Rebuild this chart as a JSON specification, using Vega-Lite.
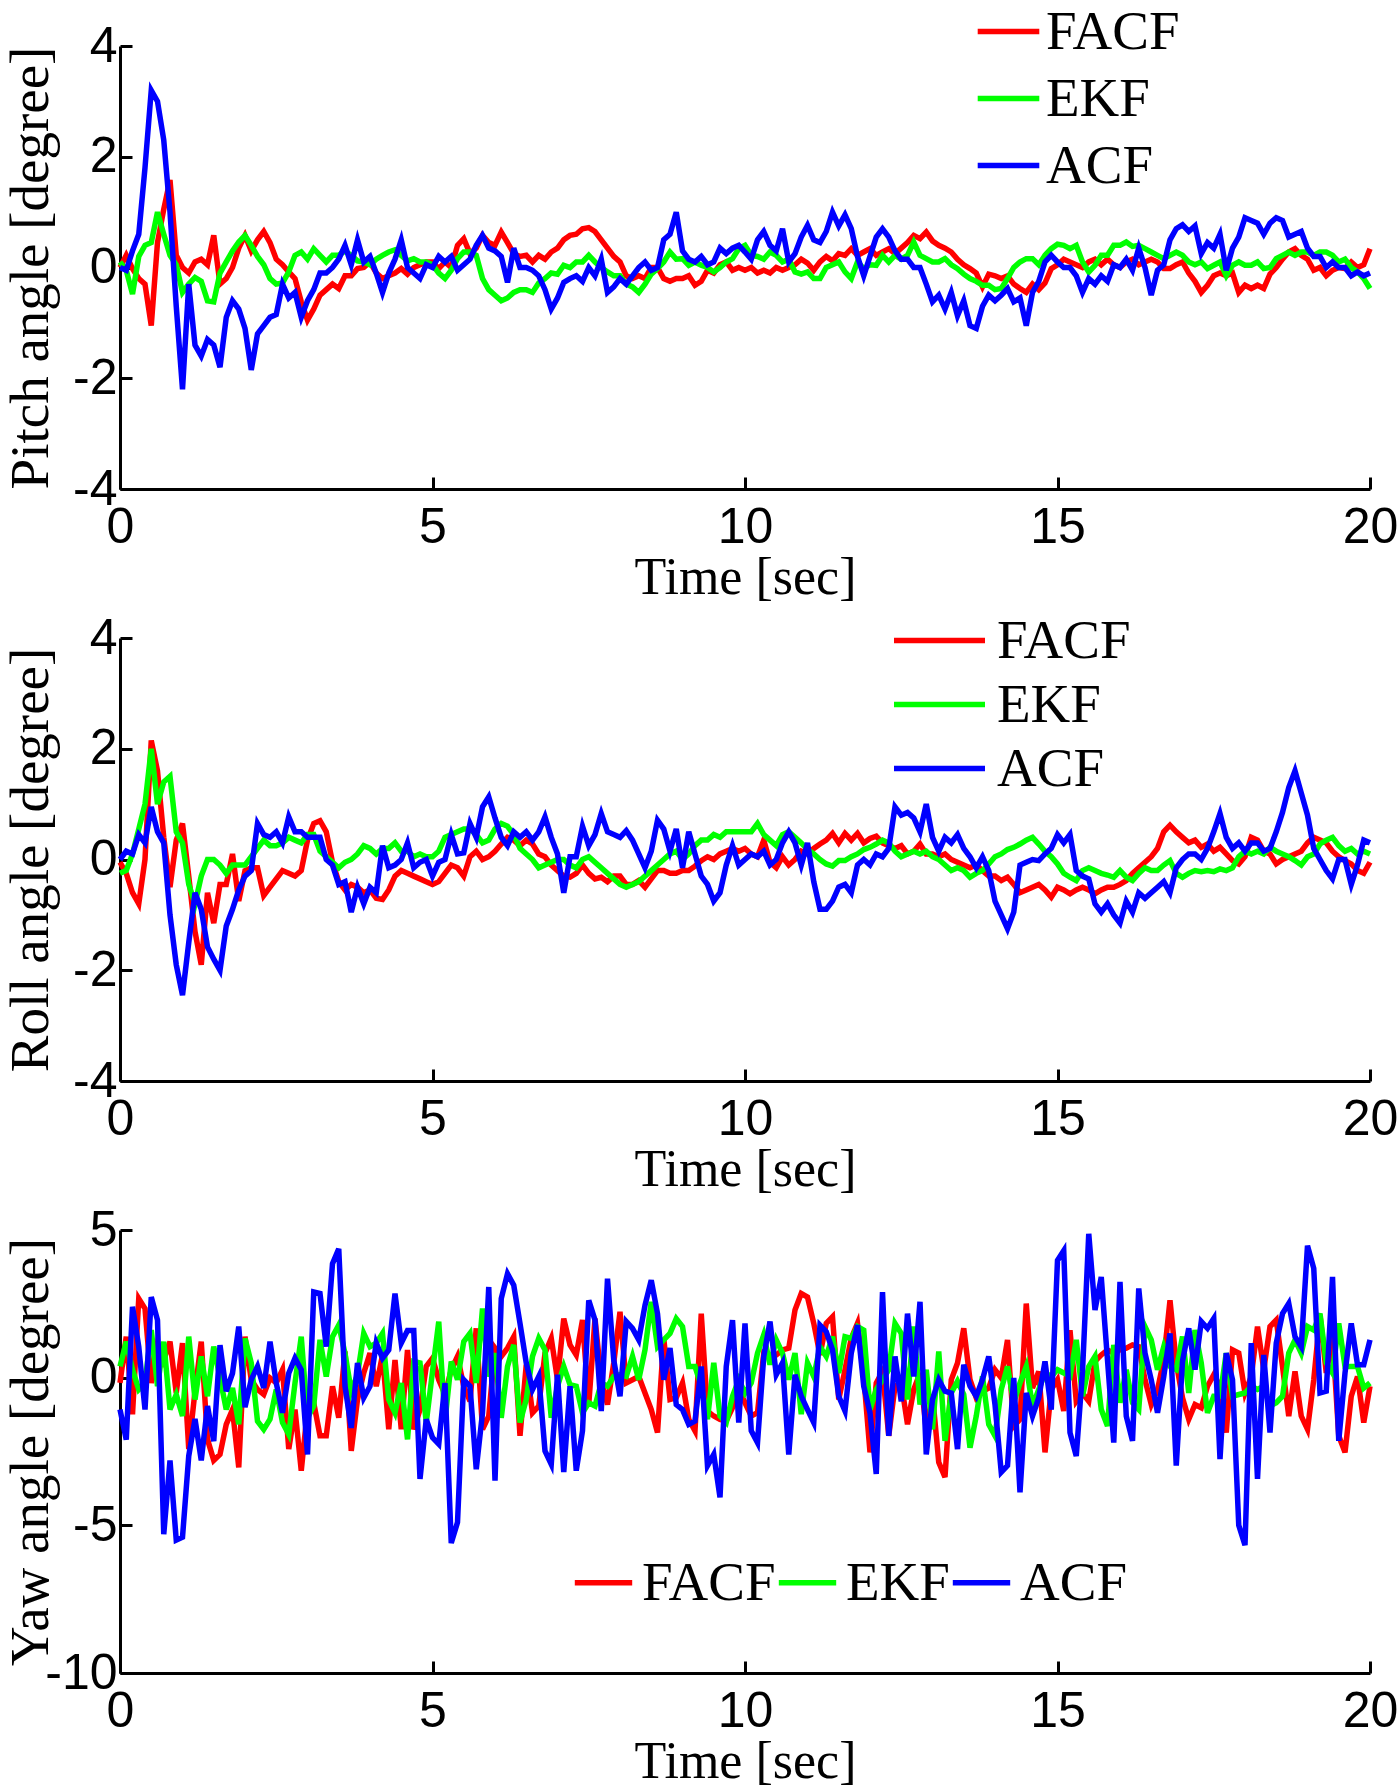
{
  "$schema": "https://vega.github.io/schema/vega-lite/v6.json",
  "description": "Pitch, roll and yaw angle estimates of FACF, EKF and ACF filters over 20 s",
  "background": "white",
  "padding": {"left": 2, "top": 4, "right": 0, "bottom": 0},
  "bounds": "flush",
  "spacing": 149,
  "config": {
    "view": {"stroke": null},
    "line": {"strokeWidth": 5.5},
    "axis": {
      "grid": false,
      "domainColor": "black",
      "domainWidth": 3,
      "tickColor": "black",
      "tickWidth": 3,
      "tickSize": -12,
      "labelFont": "Liberation Sans",
      "labelFontSize": 50,
      "labelColor": "black",
      "labelFlush": false,
      "labelOverlap": false,
      "labelBound": false,
      "labelExpr": "datum.value + ''",
      "titleFont": "Liberation Serif",
      "titleFontWeight": "normal",
      "titleColor": "black"
    },
    "axisX": {"labelPadding": 25, "titleFontSize": 52, "titlePadding": 0},
    "axisY": {"labelPadding": 15, "titleFontSize": 55, "titleBaseline": "top", "titleX": -116},
    "legend": {
      "title": null,
      "orient": "none",
      "symbolType": "M-1.4,0H1.4",
      "symbolStrokeWidth": 5.5,
      "labelFont": "Liberation Serif",
      "labelFontSize": 55,
      "labelColor": "black",
      "labelLimit": 0,
      "padding": 0
    }
  },
  "datasets": {
    "pitch": [
      {"t":0.0,"FACF":0.0,"EKF":0.1,"ACF":0.0},
      {"t":0.1,"FACF":0.22,"EKF":-0.05,"ACF":-0.05},
      {"t":0.2,"FACF":-0.02,"EKF":-0.48,"ACF":0.3},
      {"t":0.3,"FACF":-0.2,"EKF":0.2,"ACF":0.6},
      {"t":0.4,"FACF":-0.3,"EKF":0.4,"ACF":1.8},
      {"t":0.5,"FACF":-1.05,"EKF":0.45,"ACF":3.2},
      {"t":0.6,"FACF":0.45,"EKF":1.0,"ACF":3.0},
      {"t":0.7,"FACF":1.05,"EKF":0.6,"ACF":2.3},
      {"t":0.8,"FACF":1.58,"EKF":0.22,"ACF":1.0},
      {"t":0.9,"FACF":0.22,"EKF":0.05,"ACF":-0.7},
      {"t":1.0,"FACF":0.0,"EKF":-0.45,"ACF":-2.2},
      {"t":1.1,"FACF":-0.1,"EKF":-0.3,"ACF":-0.3},
      {"t":1.2,"FACF":0.1,"EKF":-0.18,"ACF":-1.4},
      {"t":1.3,"FACF":0.15,"EKF":-0.25,"ACF":-1.6},
      {"t":1.4,"FACF":0.05,"EKF":-0.6,"ACF":-1.3},
      {"t":1.5,"FACF":0.58,"EKF":-0.62,"ACF":-1.4},
      {"t":1.6,"FACF":-0.3,"EKF":-0.1,"ACF":-1.8},
      {"t":1.7,"FACF":-0.2,"EKF":0.1,"ACF":-0.9},
      {"t":1.8,"FACF":0.0,"EKF":0.3,"ACF":-0.6},
      {"t":1.9,"FACF":0.35,"EKF":0.46,"ACF":-0.75},
      {"t":2.0,"FACF":0.58,"EKF":0.58,"ACF":-1.1},
      {"t":2.1,"FACF":0.3,"EKF":0.4,"ACF":-1.85},
      {"t":2.2,"FACF":0.5,"EKF":0.2,"ACF":-1.2},
      {"t":2.3,"FACF":0.65,"EKF":0.05,"ACF":-1.05},
      {"t":2.4,"FACF":0.45,"EKF":-0.2,"ACF":-0.9},
      {"t":2.5,"FACF":0.15,"EKF":-0.3,"ACF":-0.85},
      {"t":2.6,"FACF":0.05,"EKF":-0.28,"ACF":-0.3},
      {"t":2.7,"FACF":-0.08,"EKF":-0.08,"ACF":-0.55},
      {"t":2.8,"FACF":-0.2,"EKF":0.22,"ACF":-0.45},
      {"t":2.9,"FACF":-0.62,"EKF":0.28,"ACF":-0.9},
      {"t":3.0,"FACF":-0.95,"EKF":0.15,"ACF":-0.6},
      {"t":3.1,"FACF":-0.75,"EKF":0.34,"ACF":-0.4},
      {"t":3.2,"FACF":-0.5,"EKF":0.22,"ACF":-0.1},
      {"t":3.3,"FACF":-0.4,"EKF":0.1,"ACF":-0.1},
      {"t":3.4,"FACF":-0.3,"EKF":0.22,"ACF":0.0},
      {"t":3.5,"FACF":-0.38,"EKF":0.22,"ACF":0.15},
      {"t":3.6,"FACF":-0.15,"EKF":0.3,"ACF":0.4},
      {"t":3.7,"FACF":-0.15,"EKF":0.22,"ACF":0.05},
      {"t":3.8,"FACF":-0.02,"EKF":0.12,"ACF":0.5},
      {"t":3.9,"FACF":0.0,"EKF":0.1,"ACF":0.1},
      {"t":4.0,"FACF":0.1,"EKF":0.05,"ACF":0.2},
      {"t":4.1,"FACF":-0.1,"EKF":0.15,"ACF":-0.1},
      {"t":4.2,"FACF":-0.2,"EKF":0.22,"ACF":-0.45},
      {"t":4.3,"FACF":-0.15,"EKF":0.28,"ACF":-0.1},
      {"t":4.4,"FACF":-0.1,"EKF":0.32,"ACF":0.15},
      {"t":4.5,"FACF":-0.02,"EKF":0.22,"ACF":0.5},
      {"t":4.6,"FACF":-0.12,"EKF":0.12,"ACF":0.0},
      {"t":4.7,"FACF":0.0,"EKF":0.16,"ACF":-0.1},
      {"t":4.8,"FACF":0.05,"EKF":0.1,"ACF":-0.2},
      {"t":4.9,"FACF":0.1,"EKF":0.1,"ACF":0.05},
      {"t":5.0,"FACF":0.1,"EKF":0.05,"ACF":0.0},
      {"t":5.1,"FACF":-0.02,"EKF":-0.1,"ACF":0.2},
      {"t":5.2,"FACF":0.1,"EKF":-0.2,"ACF":0.1},
      {"t":5.3,"FACF":0.0,"EKF":-0.05,"ACF":0.2},
      {"t":5.4,"FACF":0.4,"EKF":0.16,"ACF":-0.05},
      {"t":5.5,"FACF":0.52,"EKF":0.28,"ACF":0.05},
      {"t":5.6,"FACF":0.25,"EKF":0.28,"ACF":0.15},
      {"t":5.7,"FACF":0.35,"EKF":0.22,"ACF":0.4},
      {"t":5.8,"FACF":0.58,"EKF":-0.2,"ACF":0.58},
      {"t":5.9,"FACF":0.45,"EKF":-0.4,"ACF":0.35},
      {"t":6.0,"FACF":0.4,"EKF":-0.5,"ACF":0.3},
      {"t":6.1,"FACF":0.64,"EKF":-0.6,"ACF":0.2},
      {"t":6.2,"FACF":0.45,"EKF":-0.55,"ACF":-0.27},
      {"t":6.3,"FACF":0.25,"EKF":-0.45,"ACF":0.35},
      {"t":6.4,"FACF":0.2,"EKF":-0.4,"ACF":0.0},
      {"t":6.5,"FACF":0.22,"EKF":-0.4,"ACF":0.0},
      {"t":6.6,"FACF":0.1,"EKF":-0.45,"ACF":-0.05},
      {"t":6.7,"FACF":0.22,"EKF":-0.28,"ACF":-0.15},
      {"t":6.8,"FACF":0.15,"EKF":-0.2,"ACF":-0.4},
      {"t":6.9,"FACF":0.28,"EKF":-0.1,"ACF":-0.75},
      {"t":7.0,"FACF":0.35,"EKF":-0.12,"ACF":-0.55},
      {"t":7.1,"FACF":0.5,"EKF":0.04,"ACF":-0.27},
      {"t":7.2,"FACF":0.58,"EKF":0.0,"ACF":-0.2},
      {"t":7.3,"FACF":0.6,"EKF":0.1,"ACF":-0.15},
      {"t":7.4,"FACF":0.7,"EKF":0.1,"ACF":-0.25},
      {"t":7.5,"FACF":0.72,"EKF":0.22,"ACF":0.0},
      {"t":7.6,"FACF":0.65,"EKF":0.1,"ACF":-0.15},
      {"t":7.7,"FACF":0.5,"EKF":0.0,"ACF":0.15},
      {"t":7.8,"FACF":0.35,"EKF":-0.08,"ACF":-0.45},
      {"t":7.9,"FACF":0.2,"EKF":-0.15,"ACF":-0.35},
      {"t":8.0,"FACF":0.1,"EKF":-0.15,"ACF":-0.2},
      {"t":8.1,"FACF":-0.15,"EKF":-0.3,"ACF":-0.3},
      {"t":8.2,"FACF":-0.2,"EKF":-0.35,"ACF":-0.15},
      {"t":8.3,"FACF":-0.15,"EKF":-0.45,"ACF":0.0},
      {"t":8.4,"FACF":-0.2,"EKF":-0.3,"ACF":0.1},
      {"t":8.5,"FACF":0.0,"EKF":-0.12,"ACF":-0.05},
      {"t":8.6,"FACF":0.0,"EKF":-0.02,"ACF":0.0},
      {"t":8.7,"FACF":-0.2,"EKF":0.1,"ACF":0.5},
      {"t":8.8,"FACF":-0.25,"EKF":0.28,"ACF":0.6},
      {"t":8.9,"FACF":-0.2,"EKF":0.15,"ACF":1.0},
      {"t":9.0,"FACF":-0.2,"EKF":0.16,"ACF":0.3},
      {"t":9.1,"FACF":-0.15,"EKF":0.04,"ACF":0.15},
      {"t":9.2,"FACF":-0.32,"EKF":0.1,"ACF":0.1},
      {"t":9.3,"FACF":-0.25,"EKF":0.04,"ACF":0.2},
      {"t":9.4,"FACF":-0.05,"EKF":0.0,"ACF":0.05},
      {"t":9.5,"FACF":-0.1,"EKF":-0.08,"ACF":0.1},
      {"t":9.6,"FACF":0.05,"EKF":0.0,"ACF":0.35},
      {"t":9.7,"FACF":0.1,"EKF":0.1,"ACF":0.25},
      {"t":9.8,"FACF":-0.05,"EKF":0.16,"ACF":0.35},
      {"t":9.9,"FACF":0.0,"EKF":0.34,"ACF":0.4},
      {"t":10.0,"FACF":-0.05,"EKF":0.4,"ACF":0.28},
      {"t":10.1,"FACF":0.0,"EKF":0.22,"ACF":0.15},
      {"t":10.2,"FACF":-0.1,"EKF":0.2,"ACF":0.5},
      {"t":10.3,"FACF":-0.05,"EKF":0.15,"ACF":0.65},
      {"t":10.4,"FACF":-0.1,"EKF":0.28,"ACF":0.4},
      {"t":10.5,"FACF":0.0,"EKF":0.22,"ACF":0.3},
      {"t":10.6,"FACF":-0.05,"EKF":0.1,"ACF":0.7},
      {"t":10.7,"FACF":0.0,"EKF":0.15,"ACF":0.1},
      {"t":10.8,"FACF":0.05,"EKF":-0.08,"ACF":0.25},
      {"t":10.9,"FACF":0.15,"EKF":-0.12,"ACF":0.55},
      {"t":11.0,"FACF":0.08,"EKF":-0.08,"ACF":0.76},
      {"t":11.1,"FACF":-0.05,"EKF":-0.2,"ACF":0.5},
      {"t":11.2,"FACF":0.1,"EKF":-0.2,"ACF":0.45},
      {"t":11.3,"FACF":0.2,"EKF":0.0,"ACF":0.65},
      {"t":11.4,"FACF":0.12,"EKF":0.05,"ACF":1.0},
      {"t":11.5,"FACF":0.25,"EKF":0.1,"ACF":0.75},
      {"t":11.6,"FACF":0.22,"EKF":-0.08,"ACF":0.95},
      {"t":11.7,"FACF":0.34,"EKF":-0.2,"ACF":0.7},
      {"t":11.8,"FACF":0.22,"EKF":0.1,"ACF":0.2},
      {"t":11.9,"FACF":0.28,"EKF":-0.02,"ACF":-0.15},
      {"t":12.0,"FACF":0.34,"EKF":0.05,"ACF":0.2},
      {"t":12.1,"FACF":0.22,"EKF":0.04,"ACF":0.55},
      {"t":12.2,"FACF":0.28,"EKF":0.22,"ACF":0.7},
      {"t":12.3,"FACF":0.34,"EKF":0.1,"ACF":0.55},
      {"t":12.4,"FACF":0.25,"EKF":0.22,"ACF":0.3},
      {"t":12.5,"FACF":0.35,"EKF":0.15,"ACF":0.15},
      {"t":12.6,"FACF":0.45,"EKF":0.22,"ACF":0.15},
      {"t":12.7,"FACF":0.58,"EKF":0.46,"ACF":0.0},
      {"t":12.8,"FACF":0.52,"EKF":0.22,"ACF":0.0},
      {"t":12.9,"FACF":0.64,"EKF":0.16,"ACF":-0.3},
      {"t":13.0,"FACF":0.48,"EKF":0.1,"ACF":-0.62},
      {"t":13.1,"FACF":0.4,"EKF":0.1,"ACF":-0.5},
      {"t":13.2,"FACF":0.35,"EKF":0.16,"ACF":-0.75},
      {"t":13.3,"FACF":0.28,"EKF":0.05,"ACF":-0.45},
      {"t":13.4,"FACF":0.15,"EKF":-0.02,"ACF":-0.87},
      {"t":13.5,"FACF":0.05,"EKF":-0.12,"ACF":-0.6},
      {"t":13.6,"FACF":-0.02,"EKF":-0.2,"ACF":-1.05},
      {"t":13.7,"FACF":-0.1,"EKF":-0.25,"ACF":-1.1},
      {"t":13.8,"FACF":-0.35,"EKF":-0.32,"ACF":-0.7},
      {"t":13.9,"FACF":-0.12,"EKF":-0.32,"ACF":-0.5},
      {"t":14.0,"FACF":-0.15,"EKF":-0.4,"ACF":-0.6},
      {"t":14.1,"FACF":-0.2,"EKF":-0.38,"ACF":-0.5},
      {"t":14.2,"FACF":-0.15,"EKF":-0.2,"ACF":-0.38},
      {"t":14.3,"FACF":-0.3,"EKF":0.0,"ACF":-0.62},
      {"t":14.4,"FACF":-0.38,"EKF":0.1,"ACF":-0.55},
      {"t":14.5,"FACF":-0.45,"EKF":0.16,"ACF":-1.05},
      {"t":14.6,"FACF":-0.3,"EKF":0.16,"ACF":-0.45},
      {"t":14.7,"FACF":-0.4,"EKF":0.05,"ACF":-0.25},
      {"t":14.8,"FACF":-0.28,"EKF":0.22,"ACF":0.1},
      {"t":14.9,"FACF":-0.02,"EKF":0.34,"ACF":0.22},
      {"t":15.0,"FACF":0.05,"EKF":0.42,"ACF":0.1},
      {"t":15.1,"FACF":0.15,"EKF":0.4,"ACF":0.0},
      {"t":15.2,"FACF":0.1,"EKF":0.34,"ACF":0.0},
      {"t":15.3,"FACF":0.05,"EKF":0.4,"ACF":-0.15},
      {"t":15.4,"FACF":0.0,"EKF":0.1,"ACF":-0.45},
      {"t":15.5,"FACF":0.1,"EKF":-0.08,"ACF":-0.2},
      {"t":15.6,"FACF":0.15,"EKF":0.04,"ACF":-0.3},
      {"t":15.7,"FACF":0.05,"EKF":0.22,"ACF":-0.15},
      {"t":15.8,"FACF":0.15,"EKF":0.22,"ACF":-0.25},
      {"t":15.9,"FACF":0.05,"EKF":0.4,"ACF":0.05},
      {"t":16.0,"FACF":0.0,"EKF":0.4,"ACF":0.0},
      {"t":16.1,"FACF":0.1,"EKF":0.46,"ACF":0.15},
      {"t":16.2,"FACF":0.15,"EKF":0.38,"ACF":-0.05},
      {"t":16.3,"FACF":0.05,"EKF":0.4,"ACF":0.35},
      {"t":16.4,"FACF":0.1,"EKF":0.34,"ACF":0.0},
      {"t":16.5,"FACF":0.15,"EKF":0.28,"ACF":-0.5},
      {"t":16.6,"FACF":0.1,"EKF":0.22,"ACF":-0.05},
      {"t":16.7,"FACF":-0.02,"EKF":0.16,"ACF":0.05},
      {"t":16.8,"FACF":-0.02,"EKF":0.22,"ACF":0.5},
      {"t":16.9,"FACF":0.05,"EKF":0.28,"ACF":0.7},
      {"t":17.0,"FACF":0.1,"EKF":0.22,"ACF":0.77},
      {"t":17.1,"FACF":-0.1,"EKF":0.1,"ACF":0.65},
      {"t":17.2,"FACF":-0.25,"EKF":0.05,"ACF":0.75},
      {"t":17.3,"FACF":-0.45,"EKF":0.1,"ACF":0.25},
      {"t":17.4,"FACF":-0.32,"EKF":-0.02,"ACF":0.45},
      {"t":17.5,"FACF":-0.15,"EKF":0.04,"ACF":0.35},
      {"t":17.6,"FACF":-0.1,"EKF":0.1,"ACF":0.6},
      {"t":17.7,"FACF":-0.15,"EKF":-0.15,"ACF":-0.05},
      {"t":17.8,"FACF":-0.1,"EKF":0.04,"ACF":0.35},
      {"t":17.9,"FACF":-0.45,"EKF":0.1,"ACF":0.55},
      {"t":18.0,"FACF":-0.32,"EKF":0.04,"ACF":0.9},
      {"t":18.1,"FACF":-0.38,"EKF":0.04,"ACF":0.85},
      {"t":18.2,"FACF":-0.32,"EKF":0.1,"ACF":0.8},
      {"t":18.3,"FACF":-0.38,"EKF":-0.02,"ACF":0.6},
      {"t":18.4,"FACF":-0.12,"EKF":0.0,"ACF":0.8},
      {"t":18.5,"FACF":0.0,"EKF":0.16,"ACF":0.9},
      {"t":18.6,"FACF":0.15,"EKF":0.22,"ACF":0.85},
      {"t":18.7,"FACF":0.28,"EKF":0.28,"ACF":0.55},
      {"t":18.8,"FACF":0.34,"EKF":0.22,"ACF":0.6},
      {"t":18.9,"FACF":0.22,"EKF":0.28,"ACF":0.65},
      {"t":19.0,"FACF":0.15,"EKF":0.28,"ACF":0.35},
      {"t":19.1,"FACF":-0.05,"EKF":0.22,"ACF":0.2},
      {"t":19.2,"FACF":0.0,"EKF":0.28,"ACF":0.2},
      {"t":19.3,"FACF":-0.15,"EKF":0.28,"ACF":0.0},
      {"t":19.4,"FACF":-0.05,"EKF":0.22,"ACF":0.1},
      {"t":19.5,"FACF":0.0,"EKF":0.1,"ACF":0.0},
      {"t":19.6,"FACF":-0.02,"EKF":0.15,"ACF":0.0},
      {"t":19.7,"FACF":0.1,"EKF":0.0,"ACF":-0.15},
      {"t":19.8,"FACF":0.0,"EKF":-0.08,"ACF":-0.08},
      {"t":19.9,"FACF":0.05,"EKF":-0.2,"ACF":-0.15},
      {"t":20.0,"FACF":0.34,"EKF":-0.38,"ACF":-0.1}
    ],
    "roll": [
      {"t":0.0,"FACF":-0.05,"EKF":-0.25,"ACF":0.0},
      {"t":0.1,"FACF":-0.25,"EKF":-0.2,"ACF":0.15},
      {"t":0.2,"FACF":-0.6,"EKF":0.1,"ACF":0.1},
      {"t":0.3,"FACF":-0.8,"EKF":0.55,"ACF":0.45},
      {"t":0.4,"FACF":0.0,"EKF":1.0,"ACF":0.3},
      {"t":0.5,"FACF":2.15,"EKF":2.0,"ACF":0.95},
      {"t":0.6,"FACF":1.6,"EKF":1.0,"ACF":0.5},
      {"t":0.7,"FACF":0.4,"EKF":1.4,"ACF":0.3},
      {"t":0.8,"FACF":-0.5,"EKF":1.5,"ACF":-1.0},
      {"t":0.9,"FACF":0.35,"EKF":0.5,"ACF":-1.9},
      {"t":1.0,"FACF":0.65,"EKF":0.3,"ACF":-2.45},
      {"t":1.1,"FACF":-0.3,"EKF":-0.45,"ACF":-1.5},
      {"t":1.2,"FACF":-1.3,"EKF":-0.8,"ACF":-0.6},
      {"t":1.3,"FACF":-1.9,"EKF":-0.3,"ACF":-0.9},
      {"t":1.4,"FACF":-0.6,"EKF":0.0,"ACF":-1.58},
      {"t":1.5,"FACF":-1.15,"EKF":0.0,"ACF":-1.8},
      {"t":1.6,"FACF":-0.45,"EKF":-0.1,"ACF":-2.0},
      {"t":1.7,"FACF":-0.45,"EKF":-0.25,"ACF":-1.2},
      {"t":1.8,"FACF":0.1,"EKF":-0.1,"ACF":-0.9},
      {"t":1.9,"FACF":-0.75,"EKF":-0.1,"ACF":-0.55},
      {"t":2.0,"FACF":-0.2,"EKF":-0.1,"ACF":-0.3},
      {"t":2.1,"FACF":-0.15,"EKF":0.05,"ACF":-0.2},
      {"t":2.2,"FACF":-0.15,"EKF":0.2,"ACF":0.65},
      {"t":2.3,"FACF":-0.65,"EKF":0.35,"ACF":0.45},
      {"t":2.4,"FACF":-0.5,"EKF":0.25,"ACF":0.4},
      {"t":2.5,"FACF":-0.35,"EKF":0.25,"ACF":0.5},
      {"t":2.6,"FACF":-0.2,"EKF":0.3,"ACF":0.3},
      {"t":2.7,"FACF":-0.25,"EKF":0.4,"ACF":0.77},
      {"t":2.8,"FACF":-0.3,"EKF":0.35,"ACF":0.5},
      {"t":2.9,"FACF":-0.2,"EKF":0.3,"ACF":0.5},
      {"t":3.0,"FACF":0.35,"EKF":0.45,"ACF":0.4},
      {"t":3.1,"FACF":0.65,"EKF":0.45,"ACF":0.4},
      {"t":3.2,"FACF":0.7,"EKF":0.15,"ACF":0.4},
      {"t":3.3,"FACF":0.5,"EKF":0.05,"ACF":0.0},
      {"t":3.4,"FACF":-0.05,"EKF":-0.05,"ACF":-0.1},
      {"t":3.5,"FACF":-0.4,"EKF":-0.15,"ACF":-0.45},
      {"t":3.6,"FACF":-0.55,"EKF":-0.05,"ACF":-0.4},
      {"t":3.7,"FACF":-0.45,"EKF":0.0,"ACF":-0.95},
      {"t":3.8,"FACF":-0.5,"EKF":0.1,"ACF":-0.5},
      {"t":3.9,"FACF":-0.6,"EKF":0.25,"ACF":-0.8},
      {"t":4.0,"FACF":-0.55,"EKF":0.2,"ACF":-0.5},
      {"t":4.1,"FACF":-0.7,"EKF":0.1,"ACF":-0.6},
      {"t":4.2,"FACF":-0.72,"EKF":0.2,"ACF":0.25},
      {"t":4.3,"FACF":-0.55,"EKF":0.2,"ACF":-0.15},
      {"t":4.4,"FACF":-0.3,"EKF":0.3,"ACF":-0.1},
      {"t":4.5,"FACF":-0.2,"EKF":0.15,"ACF":0.0},
      {"t":4.6,"FACF":-0.25,"EKF":0.15,"ACF":0.3},
      {"t":4.7,"FACF":-0.3,"EKF":0.05,"ACF":-0.15},
      {"t":4.8,"FACF":-0.35,"EKF":0.1,"ACF":-0.05},
      {"t":4.9,"FACF":-0.4,"EKF":0.05,"ACF":0.0},
      {"t":5.0,"FACF":-0.45,"EKF":0.05,"ACF":-0.3},
      {"t":5.1,"FACF":-0.4,"EKF":0.15,"ACF":-0.05},
      {"t":5.2,"FACF":-0.25,"EKF":0.4,"ACF":0.0},
      {"t":5.3,"FACF":-0.1,"EKF":0.45,"ACF":0.45},
      {"t":5.4,"FACF":-0.15,"EKF":0.5,"ACF":0.1},
      {"t":5.5,"FACF":-0.3,"EKF":0.55,"ACF":0.12},
      {"t":5.6,"FACF":0.05,"EKF":0.55,"ACF":0.65},
      {"t":5.7,"FACF":0.15,"EKF":0.45,"ACF":0.4},
      {"t":5.8,"FACF":0.0,"EKF":0.3,"ACF":0.95},
      {"t":5.9,"FACF":0.05,"EKF":0.35,"ACF":1.13},
      {"t":6.0,"FACF":0.15,"EKF":0.55,"ACF":0.75},
      {"t":6.1,"FACF":0.28,"EKF":0.65,"ACF":0.4},
      {"t":6.2,"FACF":0.4,"EKF":0.6,"ACF":0.25},
      {"t":6.3,"FACF":0.35,"EKF":0.45,"ACF":0.5},
      {"t":6.4,"FACF":0.25,"EKF":0.2,"ACF":0.4},
      {"t":6.5,"FACF":0.35,"EKF":0.1,"ACF":0.5},
      {"t":6.6,"FACF":0.28,"EKF":0.0,"ACF":0.35},
      {"t":6.7,"FACF":0.1,"EKF":-0.15,"ACF":0.5},
      {"t":6.8,"FACF":0.05,"EKF":-0.1,"ACF":0.77},
      {"t":6.9,"FACF":-0.1,"EKF":-0.05,"ACF":0.4},
      {"t":7.0,"FACF":-0.2,"EKF":0.0,"ACF":0.1},
      {"t":7.1,"FACF":-0.3,"EKF":0.0,"ACF":-0.6},
      {"t":7.2,"FACF":-0.32,"EKF":-0.1,"ACF":0.05},
      {"t":7.3,"FACF":-0.25,"EKF":-0.15,"ACF":0.05},
      {"t":7.4,"FACF":-0.1,"EKF":0.0,"ACF":0.6},
      {"t":7.5,"FACF":-0.25,"EKF":0.05,"ACF":0.25},
      {"t":7.6,"FACF":-0.35,"EKF":-0.05,"ACF":0.45},
      {"t":7.7,"FACF":-0.32,"EKF":-0.15,"ACF":0.83},
      {"t":7.8,"FACF":-0.4,"EKF":-0.25,"ACF":0.5},
      {"t":7.9,"FACF":-0.3,"EKF":-0.35,"ACF":0.45},
      {"t":8.0,"FACF":-0.3,"EKF":-0.45,"ACF":0.4},
      {"t":8.1,"FACF":-0.45,"EKF":-0.5,"ACF":0.52},
      {"t":8.2,"FACF":-0.45,"EKF":-0.45,"ACF":0.35},
      {"t":8.3,"FACF":-0.38,"EKF":-0.4,"ACF":0.1},
      {"t":8.4,"FACF":-0.5,"EKF":-0.3,"ACF":-0.15},
      {"t":8.5,"FACF":-0.35,"EKF":-0.2,"ACF":0.15},
      {"t":8.6,"FACF":-0.2,"EKF":-0.1,"ACF":0.71},
      {"t":8.7,"FACF":-0.2,"EKF":0.0,"ACF":0.55},
      {"t":8.8,"FACF":-0.25,"EKF":0.1,"ACF":0.15},
      {"t":8.9,"FACF":-0.25,"EKF":0.15,"ACF":0.55},
      {"t":9.0,"FACF":-0.2,"EKF":0.0,"ACF":-0.15},
      {"t":9.1,"FACF":-0.2,"EKF":0.1,"ACF":0.5},
      {"t":9.2,"FACF":-0.12,"EKF":0.25,"ACF":0.1},
      {"t":9.3,"FACF":-0.02,"EKF":0.35,"ACF":-0.3},
      {"t":9.4,"FACF":0.05,"EKF":0.35,"ACF":-0.45},
      {"t":9.5,"FACF":0.0,"EKF":0.45,"ACF":-0.75},
      {"t":9.6,"FACF":0.1,"EKF":0.4,"ACF":-0.6},
      {"t":9.7,"FACF":0.15,"EKF":0.5,"ACF":-0.1},
      {"t":9.8,"FACF":0.2,"EKF":0.5,"ACF":0.25},
      {"t":9.9,"FACF":0.15,"EKF":0.5,"ACF":-0.1},
      {"t":10.0,"FACF":0.2,"EKF":0.5,"ACF":0.0},
      {"t":10.1,"FACF":0.1,"EKF":0.5,"ACF":0.1},
      {"t":10.2,"FACF":0.05,"EKF":0.65,"ACF":0.05},
      {"t":10.3,"FACF":0.35,"EKF":0.45,"ACF":0.15},
      {"t":10.4,"FACF":-0.05,"EKF":0.35,"ACF":-0.1},
      {"t":10.5,"FACF":-0.15,"EKF":0.25,"ACF":0.0},
      {"t":10.6,"FACF":0.05,"EKF":0.45,"ACF":0.3},
      {"t":10.7,"FACF":-0.1,"EKF":0.5,"ACF":0.5},
      {"t":10.8,"FACF":0.0,"EKF":0.4,"ACF":0.3},
      {"t":10.9,"FACF":0.15,"EKF":0.3,"ACF":-0.1},
      {"t":11.0,"FACF":0.1,"EKF":0.18,"ACF":0.3},
      {"t":11.1,"FACF":0.2,"EKF":0.1,"ACF":-0.4},
      {"t":11.2,"FACF":0.28,"EKF":0.0,"ACF":-0.9},
      {"t":11.3,"FACF":0.35,"EKF":-0.08,"ACF":-0.9},
      {"t":11.4,"FACF":0.47,"EKF":-0.12,"ACF":-0.75},
      {"t":11.5,"FACF":0.3,"EKF":-0.02,"ACF":-0.5},
      {"t":11.6,"FACF":0.47,"EKF":-0.02,"ACF":-0.45},
      {"t":11.7,"FACF":0.35,"EKF":0.05,"ACF":-0.6},
      {"t":11.8,"FACF":0.47,"EKF":0.1,"ACF":-0.1},
      {"t":11.9,"FACF":0.3,"EKF":0.18,"ACF":0.0},
      {"t":12.0,"FACF":0.38,"EKF":0.22,"ACF":-0.1},
      {"t":12.1,"FACF":0.42,"EKF":0.28,"ACF":0.1},
      {"t":12.2,"FACF":0.3,"EKF":0.35,"ACF":0.05},
      {"t":12.3,"FACF":0.25,"EKF":0.3,"ACF":0.2},
      {"t":12.4,"FACF":0.2,"EKF":0.15,"ACF":0.95},
      {"t":12.5,"FACF":0.25,"EKF":0.05,"ACF":0.8},
      {"t":12.6,"FACF":0.1,"EKF":0.1,"ACF":0.85},
      {"t":12.7,"FACF":0.15,"EKF":0.15,"ACF":0.75},
      {"t":12.8,"FACF":0.28,"EKF":0.1,"ACF":0.5},
      {"t":12.9,"FACF":0.1,"EKF":0.15,"ACF":1.0},
      {"t":13.0,"FACF":0.1,"EKF":0.05,"ACF":0.4},
      {"t":13.1,"FACF":0.05,"EKF":0.0,"ACF":0.15},
      {"t":13.2,"FACF":0.1,"EKF":-0.1,"ACF":0.4},
      {"t":13.3,"FACF":0.0,"EKF":-0.2,"ACF":0.3},
      {"t":13.4,"FACF":-0.05,"EKF":-0.15,"ACF":0.45},
      {"t":13.5,"FACF":-0.1,"EKF":-0.2,"ACF":0.2},
      {"t":13.6,"FACF":-0.15,"EKF":-0.32,"ACF":0.05},
      {"t":13.7,"FACF":-0.1,"EKF":-0.25,"ACF":-0.15},
      {"t":13.8,"FACF":-0.2,"EKF":-0.2,"ACF":0.05},
      {"t":13.9,"FACF":-0.3,"EKF":-0.08,"ACF":-0.2},
      {"t":14.0,"FACF":-0.3,"EKF":0.05,"ACF":-0.75},
      {"t":14.1,"FACF":-0.38,"EKF":0.1,"ACF":-1.0},
      {"t":14.2,"FACF":-0.32,"EKF":0.18,"ACF":-1.25},
      {"t":14.3,"FACF":-0.45,"EKF":0.22,"ACF":-0.95},
      {"t":14.4,"FACF":-0.6,"EKF":0.28,"ACF":-0.1},
      {"t":14.5,"FACF":-0.55,"EKF":0.35,"ACF":-0.05},
      {"t":14.6,"FACF":-0.5,"EKF":0.4,"ACF":0.0},
      {"t":14.7,"FACF":-0.45,"EKF":0.28,"ACF":-0.02},
      {"t":14.8,"FACF":-0.55,"EKF":0.15,"ACF":0.1},
      {"t":14.9,"FACF":-0.68,"EKF":0.05,"ACF":0.2},
      {"t":15.0,"FACF":-0.5,"EKF":-0.08,"ACF":0.45},
      {"t":15.1,"FACF":-0.55,"EKF":-0.25,"ACF":0.3},
      {"t":15.2,"FACF":-0.62,"EKF":-0.32,"ACF":0.45},
      {"t":15.3,"FACF":-0.55,"EKF":-0.38,"ACF":-0.2},
      {"t":15.4,"FACF":-0.5,"EKF":-0.2,"ACF":-0.3},
      {"t":15.5,"FACF":-0.55,"EKF":-0.15,"ACF":-0.35},
      {"t":15.6,"FACF":-0.62,"EKF":-0.2,"ACF":-0.8},
      {"t":15.7,"FACF":-0.55,"EKF":-0.25,"ACF":-0.95},
      {"t":15.8,"FACF":-0.5,"EKF":-0.28,"ACF":-0.8},
      {"t":15.9,"FACF":-0.5,"EKF":-0.32,"ACF":-1.0},
      {"t":16.0,"FACF":-0.45,"EKF":-0.2,"ACF":-1.15},
      {"t":16.1,"FACF":-0.38,"EKF":-0.32,"ACF":-0.75},
      {"t":16.2,"FACF":-0.25,"EKF":-0.38,"ACF":-0.95},
      {"t":16.3,"FACF":-0.15,"EKF":-0.25,"ACF":-0.6},
      {"t":16.4,"FACF":-0.05,"EKF":-0.15,"ACF":-0.7},
      {"t":16.5,"FACF":0.05,"EKF":-0.2,"ACF":-0.6},
      {"t":16.6,"FACF":0.2,"EKF":-0.2,"ACF":-0.5},
      {"t":16.7,"FACF":0.5,"EKF":-0.1,"ACF":-0.4},
      {"t":16.8,"FACF":0.62,"EKF":-0.02,"ACF":-0.6},
      {"t":16.9,"FACF":0.5,"EKF":-0.25,"ACF":-0.15},
      {"t":17.0,"FACF":0.4,"EKF":-0.32,"ACF":0.0},
      {"t":17.1,"FACF":0.3,"EKF":-0.25,"ACF":0.1},
      {"t":17.2,"FACF":0.35,"EKF":-0.2,"ACF":0.1},
      {"t":17.3,"FACF":0.22,"EKF":-0.22,"ACF":0.0},
      {"t":17.4,"FACF":0.28,"EKF":-0.2,"ACF":0.2},
      {"t":17.5,"FACF":0.15,"EKF":-0.22,"ACF":0.5},
      {"t":17.6,"FACF":0.22,"EKF":-0.17,"ACF":0.83},
      {"t":17.7,"FACF":0.1,"EKF":-0.2,"ACF":0.4},
      {"t":17.8,"FACF":-0.02,"EKF":-0.15,"ACF":0.2},
      {"t":17.9,"FACF":-0.08,"EKF":0.05,"ACF":0.3},
      {"t":18.0,"FACF":0.05,"EKF":0.15,"ACF":0.15},
      {"t":18.1,"FACF":0.4,"EKF":0.1,"ACF":0.3},
      {"t":18.2,"FACF":0.35,"EKF":0.15,"ACF":0.3},
      {"t":18.3,"FACF":0.15,"EKF":0.1,"ACF":0.15},
      {"t":18.4,"FACF":0.1,"EKF":0.22,"ACF":0.2},
      {"t":18.5,"FACF":-0.08,"EKF":0.15,"ACF":0.5},
      {"t":18.6,"FACF":0.0,"EKF":0.1,"ACF":0.85},
      {"t":18.7,"FACF":0.05,"EKF":0.05,"ACF":1.3},
      {"t":18.8,"FACF":0.1,"EKF":-0.02,"ACF":1.6},
      {"t":18.9,"FACF":0.15,"EKF":-0.1,"ACF":1.2},
      {"t":19.0,"FACF":0.3,"EKF":0.05,"ACF":0.8},
      {"t":19.1,"FACF":0.4,"EKF":0.1,"ACF":0.2},
      {"t":19.2,"FACF":0.35,"EKF":0.28,"ACF":0.0},
      {"t":19.3,"FACF":0.3,"EKF":0.35,"ACF":-0.2},
      {"t":19.4,"FACF":0.15,"EKF":0.4,"ACF":-0.35},
      {"t":19.5,"FACF":0.05,"EKF":0.25,"ACF":0.0},
      {"t":19.6,"FACF":-0.02,"EKF":0.15,"ACF":0.0},
      {"t":19.7,"FACF":-0.08,"EKF":0.2,"ACF":-0.45},
      {"t":19.8,"FACF":-0.2,"EKF":0.1,"ACF":-0.1},
      {"t":19.9,"FACF":-0.25,"EKF":0.15,"ACF":0.35},
      {"t":20.0,"FACF":-0.05,"EKF":0.1,"ACF":0.3}
    ],
    "yaw": [
      {"t":0.0,"FACF":-0.18,"EKF":0.38,"ACF":-1.08},
      {"t":0.1,"FACF":1.39,"EKF":1.22,"ACF":-2.1},
      {"t":0.2,"FACF":-1.24,"EKF":0.27,"ACF":2.4},
      {"t":0.3,"FACF":2.68,"EKF":-0.4,"ACF":1.05},
      {"t":0.4,"FACF":2.34,"EKF":-0.18,"ACF":-1.08},
      {"t":0.5,"FACF":-0.18,"EKF":1.61,"ACF":2.73},
      {"t":0.6,"FACF":1.17,"EKF":-0.29,"ACF":1.95},
      {"t":0.7,"FACF":0.6,"EKF":1.22,"ACF":-5.3},
      {"t":0.8,"FACF":1.22,"EKF":-1.08,"ACF":-2.8},
      {"t":0.9,"FACF":-0.52,"EKF":-0.57,"ACF":-5.5},
      {"t":1.0,"FACF":1.17,"EKF":-1.3,"ACF":-5.4},
      {"t":1.1,"FACF":-2.42,"EKF":1.39,"ACF":-2.65},
      {"t":1.2,"FACF":-0.46,"EKF":-0.74,"ACF":-1.4},
      {"t":1.3,"FACF":1.22,"EKF":0.72,"ACF":-2.8},
      {"t":1.4,"FACF":-2.09,"EKF":-0.63,"ACF":-0.96},
      {"t":1.5,"FACF":-2.8,"EKF":1.05,"ACF":-2.15},
      {"t":1.6,"FACF":-2.6,"EKF":-0.01,"ACF":1.1},
      {"t":1.7,"FACF":-1.58,"EKF":-1.08,"ACF":-0.46},
      {"t":1.8,"FACF":-1.08,"EKF":-0.35,"ACF":0.15},
      {"t":1.9,"FACF":-3.04,"EKF":-1.58,"ACF":1.73},
      {"t":2.0,"FACF":1.39,"EKF":1.33,"ACF":-1.0},
      {"t":2.1,"FACF":-0.07,"EKF":0.5,"ACF":-0.07},
      {"t":2.2,"FACF":-0.4,"EKF":-1.47,"ACF":0.38},
      {"t":2.3,"FACF":-0.57,"EKF":-1.75,"ACF":-0.35},
      {"t":2.4,"FACF":-0.01,"EKF":-1.41,"ACF":1.22},
      {"t":2.5,"FACF":-0.18,"EKF":-0.4,"ACF":-0.18},
      {"t":2.6,"FACF":0.27,"EKF":-1.52,"ACF":-1.19},
      {"t":2.7,"FACF":-2.42,"EKF":-1.92,"ACF":0.15},
      {"t":2.8,"FACF":-1.08,"EKF":-0.18,"ACF":0.66},
      {"t":2.9,"FACF":-3.15,"EKF":1.39,"ACF":0.27},
      {"t":3.0,"FACF":-1.08,"EKF":-1.36,"ACF":-2.6},
      {"t":3.1,"FACF":-0.85,"EKF":-0.96,"ACF":2.9},
      {"t":3.2,"FACF":-1.97,"EKF":1.28,"ACF":2.85},
      {"t":3.3,"FACF":-1.97,"EKF":0.04,"ACF":1.05},
      {"t":3.4,"FACF":-0.29,"EKF":1.39,"ACF":3.86},
      {"t":3.5,"FACF":-1.36,"EKF":1.78,"ACF":4.36},
      {"t":3.6,"FACF":0.89,"EKF":0.83,"ACF":-0.29},
      {"t":3.7,"FACF":-2.48,"EKF":-0.46,"ACF":-1.7},
      {"t":3.8,"FACF":-0.74,"EKF":0.1,"ACF":0.5},
      {"t":3.9,"FACF":0.16,"EKF":1.5,"ACF":-0.68},
      {"t":4.0,"FACF":0.83,"EKF":1.05,"ACF":-0.29},
      {"t":4.1,"FACF":-0.29,"EKF":1.17,"ACF":1.17},
      {"t":4.2,"FACF":0.77,"EKF":1.5,"ACF":0.66},
      {"t":4.3,"FACF":-1.75,"EKF":-0.74,"ACF":0.94},
      {"t":4.4,"FACF":0.6,"EKF":-1.19,"ACF":2.85},
      {"t":4.5,"FACF":-1.75,"EKF":-0.18,"ACF":1.17},
      {"t":4.6,"FACF":0.94,"EKF":-2.09,"ACF":1.6},
      {"t":4.7,"FACF":-1.75,"EKF":0.55,"ACF":1.6},
      {"t":4.8,"FACF":-1.08,"EKF":0.5,"ACF":-3.43},
      {"t":4.9,"FACF":0.38,"EKF":-1.52,"ACF":-1.41},
      {"t":5.0,"FACF":0.66,"EKF":0.21,"ACF":-2.03},
      {"t":5.1,"FACF":-0.07,"EKF":1.9,"ACF":-2.25},
      {"t":5.2,"FACF":-0.57,"EKF":-1.47,"ACF":-0.18},
      {"t":5.3,"FACF":0.27,"EKF":0.55,"ACF":-5.6},
      {"t":5.4,"FACF":0.72,"EKF":-0.07,"ACF":-4.9},
      {"t":5.5,"FACF":-0.29,"EKF":1.22,"ACF":-0.07},
      {"t":5.6,"FACF":-0.8,"EKF":1.5,"ACF":-0.29},
      {"t":5.7,"FACF":1.67,"EKF":-0.18,"ACF":-3.1},
      {"t":5.8,"FACF":-1.75,"EKF":2.34,"ACF":-1.19},
      {"t":5.9,"FACF":-1.3,"EKF":0.04,"ACF":3.07},
      {"t":6.0,"FACF":1.0,"EKF":0.83,"ACF":-3.49},
      {"t":6.1,"FACF":0.72,"EKF":-1.36,"ACF":2.68},
      {"t":6.2,"FACF":1.0,"EKF":0.38,"ACF":3.52},
      {"t":6.3,"FACF":1.39,"EKF":1.11,"ACF":3.13},
      {"t":6.4,"FACF":-1.97,"EKF":-1.52,"ACF":1.84},
      {"t":6.5,"FACF":0.44,"EKF":-0.74,"ACF":0.5},
      {"t":6.6,"FACF":-1.19,"EKF":0.72,"ACF":-0.4},
      {"t":6.7,"FACF":-0.96,"EKF":1.33,"ACF":0.04},
      {"t":6.8,"FACF":0.83,"EKF":0.94,"ACF":-2.48},
      {"t":6.9,"FACF":1.33,"EKF":-1.36,"ACF":-2.93},
      {"t":7.0,"FACF":-0.07,"EKF":-0.29,"ACF":0.1},
      {"t":7.1,"FACF":2.0,"EKF":0.38,"ACF":-3.2},
      {"t":7.2,"FACF":1.11,"EKF":-0.24,"ACF":-0.29},
      {"t":7.3,"FACF":0.77,"EKF":-0.29,"ACF":-3.15},
      {"t":7.4,"FACF":1.95,"EKF":-1.19,"ACF":-1.8},
      {"t":7.5,"FACF":-0.91,"EKF":-0.85,"ACF":2.62},
      {"t":7.6,"FACF":2.0,"EKF":-0.96,"ACF":1.95},
      {"t":7.7,"FACF":-0.07,"EKF":-0.18,"ACF":-1.13},
      {"t":7.8,"FACF":-0.91,"EKF":-0.29,"ACF":3.35},
      {"t":7.9,"FACF":0.5,"EKF":0.04,"ACF":0.6},
      {"t":8.0,"FACF":2.23,"EKF":0.1,"ACF":-0.63},
      {"t":8.1,"FACF":-0.18,"EKF":0.04,"ACF":1.9},
      {"t":8.2,"FACF":-0.07,"EKF":0.72,"ACF":1.67},
      {"t":8.3,"FACF":0.04,"EKF":-0.07,"ACF":1.28},
      {"t":8.4,"FACF":-0.52,"EKF":0.94,"ACF":2.45},
      {"t":8.5,"FACF":-1.08,"EKF":2.57,"ACF":3.3},
      {"t":8.6,"FACF":-1.86,"EKF":1.05,"ACF":2.17},
      {"t":8.7,"FACF":1.33,"EKF":1.28,"ACF":-0.07},
      {"t":8.8,"FACF":-0.74,"EKF":1.5,"ACF":1.0},
      {"t":8.9,"FACF":-0.68,"EKF":2.0,"ACF":-0.91},
      {"t":9.0,"FACF":-0.18,"EKF":1.73,"ACF":-1.08},
      {"t":9.1,"FACF":-1.41,"EKF":0.38,"ACF":-1.58},
      {"t":9.2,"FACF":-1.8,"EKF":0.38,"ACF":-1.47},
      {"t":9.3,"FACF":2.17,"EKF":-0.29,"ACF":0.38},
      {"t":9.4,"FACF":-1.13,"EKF":-1.41,"ACF":-2.98},
      {"t":9.5,"FACF":-1.3,"EKF":0.5,"ACF":-2.6},
      {"t":9.6,"FACF":-1.41,"EKF":-1.3,"ACF":-4.05},
      {"t":9.7,"FACF":-1.47,"EKF":-1.52,"ACF":0.38},
      {"t":9.8,"FACF":-1.02,"EKF":-0.63,"ACF":1.95},
      {"t":9.9,"FACF":-0.4,"EKF":-0.07,"ACF":-1.52},
      {"t":10.0,"FACF":-0.85,"EKF":-0.52,"ACF":1.84},
      {"t":10.1,"FACF":-1.3,"EKF":-0.18,"ACF":-1.8},
      {"t":10.2,"FACF":-1.19,"EKF":0.83,"ACF":-2.2},
      {"t":10.3,"FACF":0.83,"EKF":1.45,"ACF":0.72},
      {"t":10.4,"FACF":0.72,"EKF":0.44,"ACF":1.9},
      {"t":10.5,"FACF":0.77,"EKF":1.28,"ACF":0.1},
      {"t":10.6,"FACF":0.94,"EKF":0.83,"ACF":0.5},
      {"t":10.7,"FACF":1.0,"EKF":-0.07,"ACF":-2.6},
      {"t":10.8,"FACF":2.29,"EKF":0.83,"ACF":0.1},
      {"t":10.9,"FACF":2.85,"EKF":-1.24,"ACF":-0.63},
      {"t":11.0,"FACF":2.73,"EKF":0.5,"ACF":-1.08},
      {"t":11.1,"FACF":1.84,"EKF":0.04,"ACF":-1.52},
      {"t":11.2,"FACF":0.77,"EKF":1.05,"ACF":1.78},
      {"t":11.3,"FACF":1.84,"EKF":0.72,"ACF":1.56},
      {"t":11.4,"FACF":2.06,"EKF":1.39,"ACF":0.94},
      {"t":11.5,"FACF":-0.74,"EKF":0.16,"ACF":-0.63},
      {"t":11.6,"FACF":0.27,"EKF":1.39,"ACF":-1.13},
      {"t":11.7,"FACF":1.33,"EKF":1.33,"ACF":0.83},
      {"t":11.8,"FACF":1.84,"EKF":1.73,"ACF":1.78},
      {"t":11.9,"FACF":0.04,"EKF":1.61,"ACF":-0.29},
      {"t":12.0,"FACF":-2.53,"EKF":-1.08,"ACF":-1.19},
      {"t":12.1,"FACF":-0.18,"EKF":-0.4,"ACF":-3.26},
      {"t":12.2,"FACF":0.21,"EKF":-0.07,"ACF":2.9},
      {"t":12.3,"FACF":-1.97,"EKF":0.27,"ACF":-1.97},
      {"t":12.4,"FACF":-0.29,"EKF":1.84,"ACF":0.72},
      {"t":12.5,"FACF":-0.18,"EKF":1.5,"ACF":-0.8},
      {"t":12.6,"FACF":-1.58,"EKF":-0.74,"ACF":2.17},
      {"t":12.7,"FACF":-0.4,"EKF":1.73,"ACF":0.04},
      {"t":12.8,"FACF":0.16,"EKF":-0.91,"ACF":2.57},
      {"t":12.9,"FACF":-1.75,"EKF":0.27,"ACF":-2.6},
      {"t":13.0,"FACF":-0.57,"EKF":-1.75,"ACF":-0.74},
      {"t":13.1,"FACF":-2.87,"EKF":0.89,"ACF":-0.07},
      {"t":13.2,"FACF":-3.37,"EKF":-2.14,"ACF":-0.46},
      {"t":13.3,"FACF":-0.07,"EKF":-0.52,"ACF":-0.52},
      {"t":13.4,"FACF":0.5,"EKF":-0.12,"ACF":-2.42},
      {"t":13.5,"FACF":1.67,"EKF":-0.57,"ACF":0.44},
      {"t":13.6,"FACF":-0.07,"EKF":-2.37,"ACF":-0.29},
      {"t":13.7,"FACF":-0.68,"EKF":-1.3,"ACF":-0.63},
      {"t":13.8,"FACF":-0.46,"EKF":0.04,"ACF":-0.07},
      {"t":13.9,"FACF":-0.35,"EKF":-1.58,"ACF":0.72},
      {"t":14.0,"FACF":0.27,"EKF":-1.97,"ACF":-0.91},
      {"t":14.1,"FACF":-0.01,"EKF":-0.4,"ACF":-3.2},
      {"t":14.2,"FACF":1.28,"EKF":0.38,"ACF":-2.98},
      {"t":14.3,"FACF":-1.64,"EKF":-0.85,"ACF":-0.01},
      {"t":14.4,"FACF":-1.41,"EKF":-0.18,"ACF":-3.88},
      {"t":14.5,"FACF":2.51,"EKF":0.38,"ACF":-0.52},
      {"t":14.6,"FACF":-0.35,"EKF":-0.96,"ACF":-1.3},
      {"t":14.7,"FACF":0.21,"EKF":-0.4,"ACF":-0.68},
      {"t":14.8,"FACF":-2.53,"EKF":0.16,"ACF":0.55},
      {"t":14.9,"FACF":-0.4,"EKF":0.04,"ACF":-1.08},
      {"t":15.0,"FACF":-0.07,"EKF":0.27,"ACF":3.97},
      {"t":15.1,"FACF":-1.13,"EKF":0.16,"ACF":4.3},
      {"t":15.2,"FACF":1.61,"EKF":0.04,"ACF":-1.86},
      {"t":15.3,"FACF":-0.8,"EKF":1.28,"ACF":-2.65},
      {"t":15.4,"FACF":-0.52,"EKF":-0.63,"ACF":0.21},
      {"t":15.5,"FACF":-0.8,"EKF":0.38,"ACF":4.87},
      {"t":15.6,"FACF":0.55,"EKF":0.72,"ACF":2.29},
      {"t":15.7,"FACF":0.77,"EKF":-1.08,"ACF":3.41},
      {"t":15.8,"FACF":0.94,"EKF":-1.64,"ACF":0.6},
      {"t":15.9,"FACF":0.83,"EKF":1.11,"ACF":-2.2},
      {"t":16.0,"FACF":0.94,"EKF":-0.85,"ACF":3.24},
      {"t":16.1,"FACF":1.0,"EKF":0.27,"ACF":-1.3},
      {"t":16.2,"FACF":1.11,"EKF":-0.85,"ACF":-2.14},
      {"t":16.3,"FACF":1.05,"EKF":-1.08,"ACF":3.02},
      {"t":16.4,"FACF":-0.07,"EKF":1.73,"ACF":0.83},
      {"t":16.5,"FACF":-0.91,"EKF":1.28,"ACF":-0.07},
      {"t":16.6,"FACF":-0.4,"EKF":0.27,"ACF":-1.19},
      {"t":16.7,"FACF":0.6,"EKF":1.05,"ACF":0.04},
      {"t":16.8,"FACF":2.62,"EKF":0.38,"ACF":1.5},
      {"t":16.9,"FACF":0.5,"EKF":0.27,"ACF":-2.98},
      {"t":17.0,"FACF":-0.68,"EKF":1.39,"ACF":0.55},
      {"t":17.1,"FACF":-1.41,"EKF":-0.52,"ACF":1.67},
      {"t":17.2,"FACF":-0.91,"EKF":1.61,"ACF":0.27},
      {"t":17.3,"FACF":-1.02,"EKF":0.5,"ACF":1.9},
      {"t":17.4,"FACF":-0.29,"EKF":-1.19,"ACF":1.67},
      {"t":17.5,"FACF":0.1,"EKF":-0.63,"ACF":2.0},
      {"t":17.6,"FACF":-0.29,"EKF":-0.63,"ACF":-2.76},
      {"t":17.7,"FACF":-1.86,"EKF":0.83,"ACF":0.83},
      {"t":17.8,"FACF":0.94,"EKF":-0.63,"ACF":-0.07},
      {"t":17.9,"FACF":0.83,"EKF":-0.57,"ACF":-5.0},
      {"t":18.0,"FACF":-0.52,"EKF":-0.52,"ACF":-5.67},
      {"t":18.1,"FACF":0.04,"EKF":-0.29,"ACF":1.17},
      {"t":18.2,"FACF":1.73,"EKF":-0.4,"ACF":-3.43},
      {"t":18.3,"FACF":0.27,"EKF":-0.29,"ACF":0.77},
      {"t":18.4,"FACF":1.73,"EKF":-0.96,"ACF":-1.86},
      {"t":18.5,"FACF":1.95,"EKF":-0.85,"ACF":1.17},
      {"t":18.6,"FACF":0.38,"EKF":-0.63,"ACF":2.17},
      {"t":18.7,"FACF":-1.3,"EKF":0.83,"ACF":2.51},
      {"t":18.8,"FACF":0.21,"EKF":1.28,"ACF":1.39},
      {"t":18.9,"FACF":-1.3,"EKF":0.83,"ACF":1.05},
      {"t":19.0,"FACF":-1.75,"EKF":1.73,"ACF":4.47},
      {"t":19.1,"FACF":-0.07,"EKF":1.61,"ACF":3.7},
      {"t":19.2,"FACF":2.12,"EKF":2.17,"ACF":-0.52},
      {"t":19.3,"FACF":0.16,"EKF":0.5,"ACF":-0.46},
      {"t":19.4,"FACF":1.39,"EKF":0.16,"ACF":3.41},
      {"t":19.5,"FACF":-1.97,"EKF":1.84,"ACF":-2.14},
      {"t":19.6,"FACF":-2.53,"EKF":0.38,"ACF":0.16},
      {"t":19.7,"FACF":-0.63,"EKF":0.38,"ACF":1.84},
      {"t":19.8,"FACF":0.04,"EKF":0.38,"ACF":0.44},
      {"t":19.9,"FACF":-1.52,"EKF":-0.35,"ACF":0.44},
      {"t":20.0,"FACF":-0.29,"EKF":-0.18,"ACF":1.28}
    ]
  },
  "vconcat": [
    {
      "width": 1250,
      "height": 443,
      "data": {"name": "pitch"},
      "encoding": {
        "x": {
          "field": "t",
          "type": "quantitative",
          "scale": {"domain": [0, 20], "nice": false},
          "axis": {"values": [0, 5, 10, 15, 20], "title": "Time [sec]"}
        }
      },
      "layer": [
        {
          "mark": "line",
          "encoding": {
            "y": {"field": "FACF", "type": "quantitative", "scale": {"domain": [-4, 4], "nice": false}, "axis": {"values": [-4, -2, 0, 2, 4], "title": "Pitch angle [degree]"}},
            "color": {
              "datum": "FACF",
              "scale": {"domain": ["FACF", "EKF", "ACF"], "range": ["#ff0000", "#00ff00", "#0000ff"]},
              "legend": {"legendX": 861, "legendY": -42, "symbolSize": 1936, "labelOffset": 10, "rowPadding": 11}
            }
          }
        },
        {
          "mark": "line",
          "encoding": {
            "y": {"field": "EKF", "type": "quantitative", "scale": {"domain": [-4, 4], "nice": false}, "axis": {"values": [-4, -2, 0, 2, 4], "title": "Pitch angle [degree]"}},
            "color": {"datum": "EKF"}
          }
        },
        {
          "mark": "line",
          "encoding": {
            "y": {"field": "ACF", "type": "quantitative", "scale": {"domain": [-4, 4], "nice": false}, "axis": {"values": [-4, -2, 0, 2, 4], "title": "Pitch angle [degree]"}},
            "color": {"datum": "ACF"}
          }
        }
      ]
    },
    {
      "width": 1250,
      "height": 443,
      "data": {"name": "roll"},
      "encoding": {
        "x": {
          "field": "t",
          "type": "quantitative",
          "scale": {"domain": [0, 20], "nice": false},
          "axis": {"values": [0, 5, 10, 15, 20], "title": "Time [sec]"}
        }
      },
      "layer": [
        {
          "mark": "line",
          "encoding": {
            "y": {"field": "FACF", "type": "quantitative", "scale": {"domain": [-4, 4], "nice": false}, "axis": {"values": [-4, -2, 0, 2, 4], "title": "Roll angle [degree]"}},
            "color": {
              "datum": "FACF",
              "scale": {"domain": ["FACF", "EKF", "ACF"], "range": ["#ff0000", "#00ff00", "#0000ff"]},
              "legend": {"legendX": 784, "legendY": -33, "symbolSize": 4225, "labelOffset": 22, "rowPadding": 0}
            }
          }
        },
        {
          "mark": "line",
          "encoding": {
            "y": {"field": "EKF", "type": "quantitative", "scale": {"domain": [-4, 4], "nice": false}, "axis": {"values": [-4, -2, 0, 2, 4], "title": "Roll angle [degree]"}},
            "color": {"datum": "EKF"}
          }
        },
        {
          "mark": "line",
          "encoding": {
            "y": {"field": "ACF", "type": "quantitative", "scale": {"domain": [-4, 4], "nice": false}, "axis": {"values": [-4, -2, 0, 2, 4], "title": "Roll angle [degree]"}},
            "color": {"datum": "ACF"}
          }
        }
      ]
    },
    {
      "width": 1250,
      "height": 443,
      "data": {"name": "yaw"},
      "encoding": {
        "x": {
          "field": "t",
          "type": "quantitative",
          "scale": {"domain": [0, 20], "nice": false},
          "axis": {"values": [0, 5, 10, 15, 20], "title": "Time [sec]"}
        }
      },
      "layer": [
        {
          "mark": "line",
          "encoding": {
            "y": {"field": "FACF", "type": "quantitative", "scale": {"domain": [-10, 5], "nice": false}, "axis": {"values": [-10, -5, 0, 5], "title": "Yaw angle [degree]"}},
            "color": {
              "datum": "FACF",
              "scale": {"domain": ["FACF", "EKF", "ACF"], "range": ["#ff0000", "#00ff00", "#0000ff"]},
              "legend": {"legendX": 456, "legendY": 325, "direction": "horizontal", "symbolSize": 1681, "labelOffset": 11, "columnPadding": -9}
            }
          }
        },
        {
          "mark": "line",
          "encoding": {
            "y": {"field": "EKF", "type": "quantitative", "scale": {"domain": [-10, 5], "nice": false}, "axis": {"values": [-10, -5, 0, 5], "title": "Yaw angle [degree]"}},
            "color": {"datum": "EKF"}
          }
        },
        {
          "mark": "line",
          "encoding": {
            "y": {"field": "ACF", "type": "quantitative", "scale": {"domain": [-10, 5], "nice": false}, "axis": {"values": [-10, -5, 0, 5], "title": "Yaw angle [degree]"}},
            "color": {"datum": "ACF"}
          }
        }
      ]
    }
  ],
  "resolve": {"scale": {"color": "independent"}, "legend": {"color": "independent"}}
}
